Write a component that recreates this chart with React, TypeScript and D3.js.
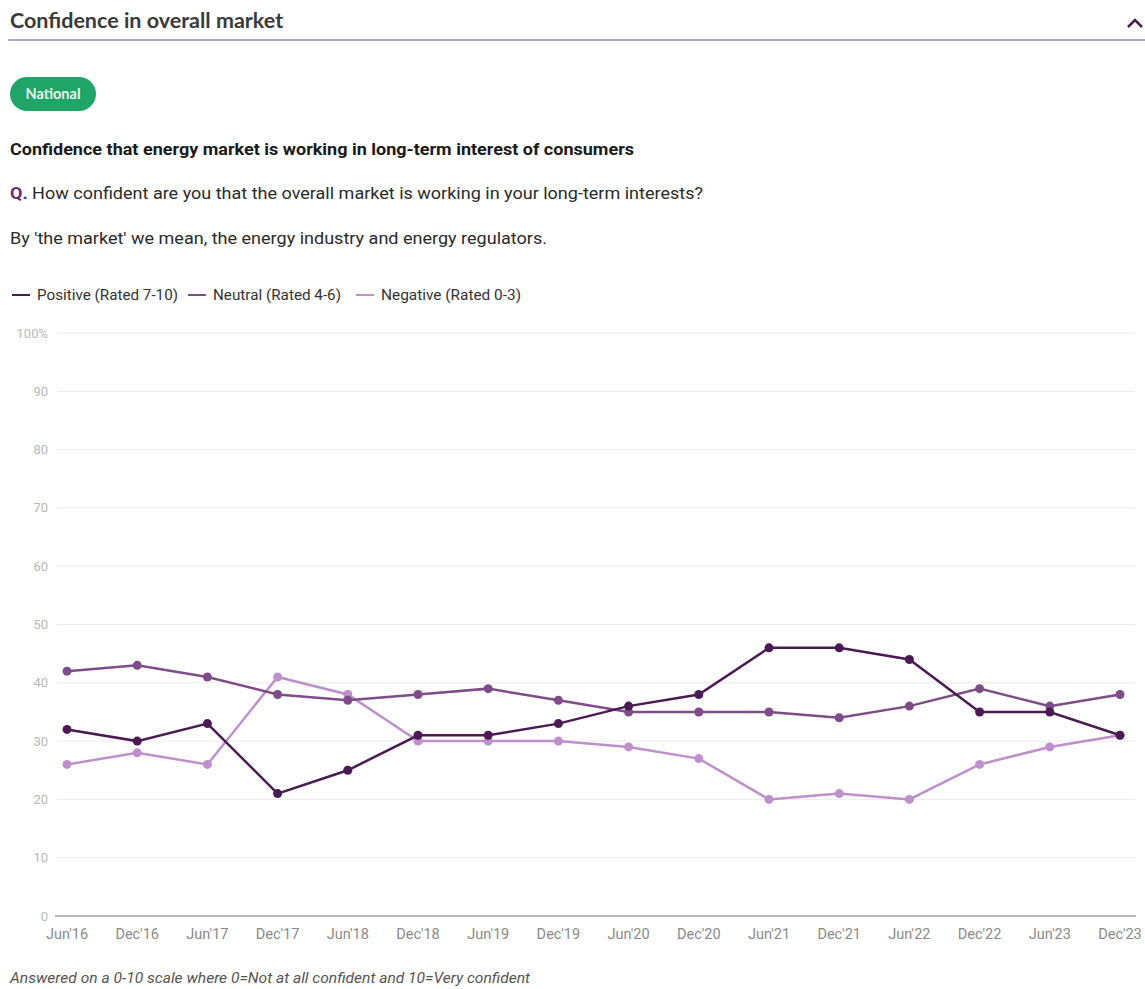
import React from "react";
import * as d3 from "d3";

const periods = ["Jun'16","Dec'16","Jun'17","Dec'17","Jun'18","Dec'18","Jun'19","Dec'19","Jun'20","Dec'20","Jun'21","Dec'21","Jun'22","Dec'22","Jun'23","Dec'23"];
const positive = [32,30,33,21,25,31,31,33,36,38,46,46,44,35,35,31];
const neutral = [42,43,41,38,37,38,39,37,35,35,35,34,36,39,36,38];
const negative = [26,28,26,41,38,30,30,30,29,27,20,21,20,26,29,31];
const yTicks = [0,10,20,30,40,50,60,70,80,90,100];

const seriesList = [
  { name: "Positive (Rated 7-10)", values: positive, color: "#4b1a55" },
  { name: "Neutral (Rated 4-6)", values: neutral, color: "#7f4b89" },
  { name: "Negative (Rated 0-3)", values: negative, color: "#bf8fcb" },
];

export default function App() {
  const W = 1145, H = 989;
  const x = d3.scalePoint<string>().domain(periods).range([67, 1120]);
  const y = d3.scaleLinear().domain([0, 100]).range([916, 333]);
  const line = d3.line<number>().x((_, i) => x(periods[i]) as number).y(d => y(d));
  const legendX = [12, 188, 356];
  const legendW = [141, 128, 140];
  const font = "Roboto, 'Noto Sans', sans-serif";
  return (
    <svg width={W} height={H} style={{ position: "absolute", left: 0, top: 0, background: "#fff" }} fontFamily={font}>
      <text x={10} y={28} fontFamily="Lato, sans-serif" fontWeight={700} fontSize={21.5} fill="#3a3a3a">Confidence in overall market</text>
      <line x1={8} x2={1145} y1={40} y2={40} stroke="#b8a6c4" strokeWidth={2} />
      <path d="M1128,27 L1135,20 L1142,27" fill="none" stroke="#4b1a55" strokeWidth={2.5} />
      <rect x={10} y={77} width={86} height={34} rx={17} fill="#1fa567" />
      <text x={53} y={99} textAnchor="middle" fontSize={14.5} fill="#e8f7ee" fontFamily="Lato, sans-serif" fontWeight={700}>National</text>
      <text x={10} y={155} fontSize={17} fontWeight={700} fill="#1a1a1a" textLength={624} lengthAdjust="spacingAndGlyphs">Confidence that energy market is working in long-term interest of consumers</text>
      <text x={10} y={199} fontSize={17} fill="#2a2a2a" textLength={693} lengthAdjust="spacingAndGlyphs">
        <tspan fill="#6b2a78" fontWeight={700}>Q.</tspan> How confident are you that the overall market is working in your long-term interests?
      </text>
      <text x={10} y={244} fontSize={17} fill="#2a2a2a" textLength={537} lengthAdjust="spacingAndGlyphs">By 'the market' we mean, the energy industry and energy regulators.</text>
      {seriesList.map((s, i) => (
        <g key={s.name} transform={`translate(${legendX[i]},295)`}>
          <line x1={0} x2={18} y1={0} y2={0} stroke={s.color} strokeWidth={2} />
          <text x={25} y={5} fontSize={14} fill="#333" textLength={legendW[i]} lengthAdjust="spacingAndGlyphs">{s.name}</text>
        </g>
      ))}
      {yTicks.map(t => (
        <g key={t}>
          {t > 0 && <line x1={57} x2={1135} y1={y(t)} y2={y(t)} stroke="#ececec" strokeWidth={1} />}
          <text x={48} y={y(t) + 4.5} textAnchor="end" fontSize={13} fill="#b8b8b8">{t === 100 ? "100%" : t}</text>
        </g>
      ))}
      <line x1={55} x2={1136} y1={y(0)} y2={y(0)} stroke="#a0a0a0" strokeWidth={1.5} />
      {periods.map(p => (
        <text key={p} x={x(p)} y={939} textAnchor="middle" fontSize={14.5} fill="#8a8a8a">{p}</text>
      ))}
      {seriesList.slice().reverse().map(s => (
        <g key={s.name}>
          <path d={line(s.values) || ""} fill="none" stroke={s.color} strokeWidth={2.5} />
          {s.values.map((v, i) => (
            <circle key={i} cx={x(periods[i])} cy={y(v)} r={4.5} fill={s.color} />
          ))}
        </g>
      ))}
      <text x={10} y={983} fontSize={14} fontStyle="italic" fill="#555" textLength={520} lengthAdjust="spacingAndGlyphs">Answered on a 0-10 scale where 0=Not at all confident and 10=Very confident</text>
    </svg>
  );
}
